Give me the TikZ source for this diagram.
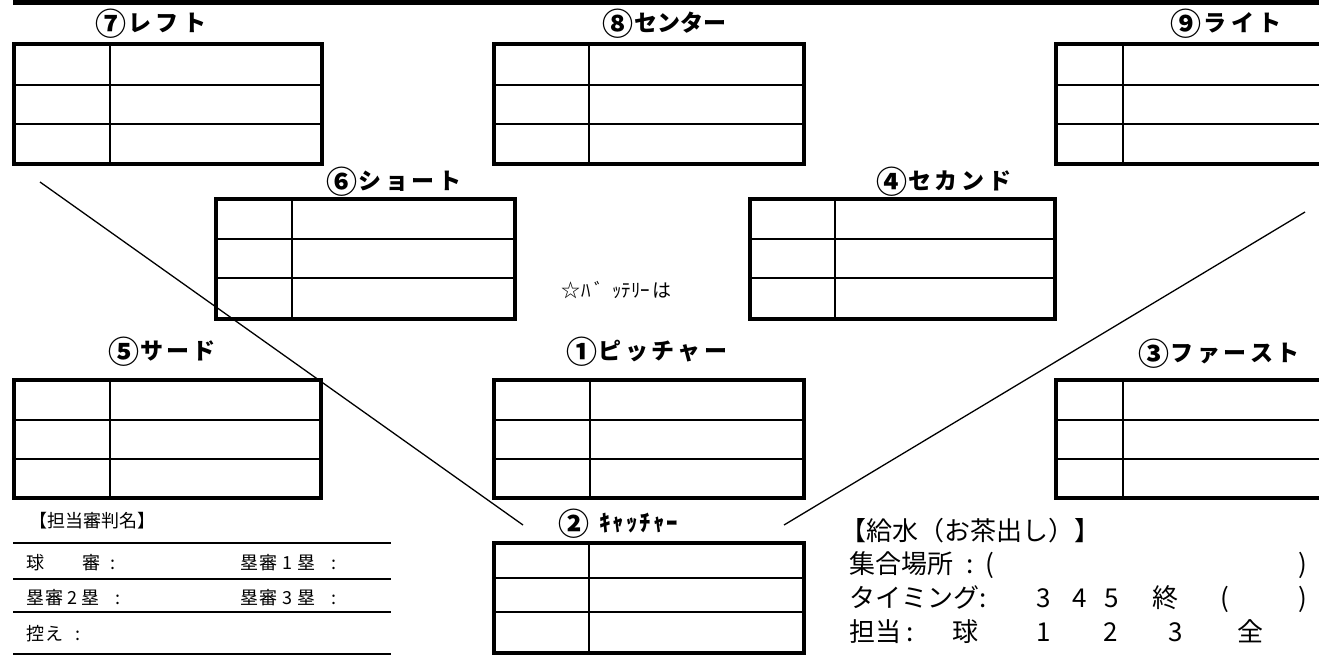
\documentclass[tikz,border=0pt]{standalone}
\usepackage{fontspec}
\newfontfamily\jp{Noto Sans CJK JP}
\newcommand\cd[1]{\raisebox{-4pt}{\fontsize{31}{31}\selectfont #1}}
\tikzset{
  outline/.style={line width=4pt},
  rowline/.style={line width=1.2pt},
  divline/.style={line width=1.6pt},
  foul/.style={line width=1.3pt},
  ruleline/.style={line width=2.5pt},
  head/.style={font=\jp\bfseries\fontsize{23}{23}\selectfont, inner sep=0pt},
  ump/.style={font=\jp\fontsize{18}{18}\selectfont, inner sep=0pt, anchor=west},
  water/.style={font=\jp\fontsize{26}{26}\selectfont, inner sep=0pt, anchor=base},
  note/.style={font=\jp\fontsize{19}{19}\selectfont, inner sep=0pt, anchor=west},
}
% x1 y1 x2 y2 xdiv ya yb
\newcommand\fieldbox[7]{%
  \draw[rowline] (#1,#6) -- (#3,#6);
  \draw[rowline] (#1,#7) -- (#3,#7);
  \draw[divline] (#5,#2) -- (#5,#4);
  \draw[outline] (#1,#2) rectangle (#3,#4);
}
\begin{document}
\begin{tikzpicture}[x=1pt,y=-1pt]
\useasboundingbox (0,0) rectangle (1319,656);
\clip (0,0) rectangle (1319,656);
% top bar
\fill (13,0) rectangle (1330,5);
% position boxes
\fieldbox{14}{44}{322}{164}{110}{85}{124}
\fieldbox{494}{44}{804}{164}{589}{85}{124}
\fieldbox{1056}{44}{1335}{164}{1123}{85}{124}
\fieldbox{216}{199}{515}{319}{292}{239}{278}
\fieldbox{750}{199}{1055}{319}{835}{239}{278}
\fieldbox{14}{380}{321}{498}{110}{420}{459}
\fieldbox{494}{380}{804}{498}{590}{420}{459}
\fieldbox{1056}{380}{1335}{498}{1123}{420}{459}
\fieldbox{494}{543}{804}{653}{589}{578}{612}
% foul lines
\coordinate (lfA) at (40,182);
\coordinate (lfB) at (523,525);
\coordinate (rfA) at (1305,212);
\coordinate (rfB) at (784,525);
\draw[foul] (lfA) -- (lfB);
\draw[foul] (rfA) -- (rfB);
% headings
\node[head] (h7) at (151,24) {\cd{⑦}\kern2pt レ\kern5pt フ\kern5pt ト};
\node[head] (h8) at (664,24) {\cd{⑧}\kern1pt センター};
\node[head] (h9) at (1226,24) {\cd{⑨}\kern2pt ラ\kern5pt イ\kern5pt ト};
\node[head] (h6) at (394,182) {\cd{⑥}\kern1pt シ\kern3.5pt ョ\kern3.5pt ー\kern3.5pt ト};
\node[head] (h4) at (944,182) {\cd{④}\kern1pt セ\kern4pt カ\kern4pt ン\kern4pt ド};
\node[head] (h5) at (162,352) {\cd{⑤}\kern1pt サ\kern3pt ー\kern3pt ド};
\node[head] (h1) at (647,352) {\cd{①}\kern1pt ピ\kern3.5pt ッ\kern3.5pt チ\kern3.5pt ャ\kern3.5pt ー};
\node[head] (h3) at (1219,354) {\cd{③}\kern1pt フ\kern3.5pt ァ\kern3.5pt ー\kern3.5pt ス\kern3.5pt ト};
\node[head, anchor=west] (h2) at (558,524) {\cd{②}\kern10pt ｷ\kern2pt ｬ\kern2pt ｯ\kern2pt ﾁ\kern2pt ｬ\kern2pt ｰ};
\node[note] (bat) at (561,290) {☆\kern1pt ﾊ\kern4pt ﾞ\kern8pt ｯﾃﾘｰ\kern2pt は};
% umpires
\node[ump] (umph) at (29,521) {【担当審判名】};
\coordinate (ula) at (13,543); \coordinate (ulb) at (391,543);
\coordinate (ulc) at (13,579); \coordinate (uld) at (391,579);
\coordinate (ule) at (13,612); \coordinate (ulf) at (391,612);
\coordinate (ulg) at (13,654); \coordinate (ulh) at (391,654);
\draw[ruleline] (ula) -- (ulb);
\draw[ruleline] (ulc) -- (uld);
\draw[ruleline] (ule) -- (ulf);
\draw[ruleline] (ulg) -- (ulh);
\node[ump] (u1) at (26,563) {球\kern38pt 審\kern10pt :};
\node[ump] (u2) at (240,563) {塁\kern1pt 審\kern5pt 1\kern5pt 塁\kern16pt :};
\node[ump] (u3) at (26,598) {塁\kern1pt 審\kern4pt 2\kern4pt 塁\kern16pt :};
\node[ump] (u4) at (240,598) {塁\kern1pt 審\kern5pt 3\kern5pt 塁\kern16pt :};
\node[ump] (u5) at (26,634) {控\kern1pt え\kern12pt :};
% water
\node[water] (w0) at (970,540) {【給水（お茶出し）】};
\node[water] (w1a) at (901,573) {集合場所};
\node[water] (w1b) at (970,573) {:};
\node[water] (w1c) at (990,573) {(};
\node[water] (w1d) at (1303,573) {)};
\node[water] (w2a) at (914,607) {タイミング};
\node[water] (w2b) at (983,607) {:};
\node[water] (w2c) at (1044,607) {3};
\node[water] (w2d) at (1080,607) {4};
\node[water] (w2e) at (1112,607) {5};
\node[water] (w2f) at (1165,607) {終};
\node[water] (w2g) at (1225,607) {(};
\node[water] (w2h) at (1303,607) {)};
\node[water] (w3a) at (875,641) {担当};
\node[water] (w3b) at (910,641) {:};
\node[water] (w3c) at (965,641) {球};
\node[water] (w3d) at (1044,641) {1};
\node[water] (w3e) at (1111,641) {2};
\node[water] (w3f) at (1176,641) {3};
\node[water] (w3g) at (1250,641) {全};
\end{tikzpicture}
\end{document}
